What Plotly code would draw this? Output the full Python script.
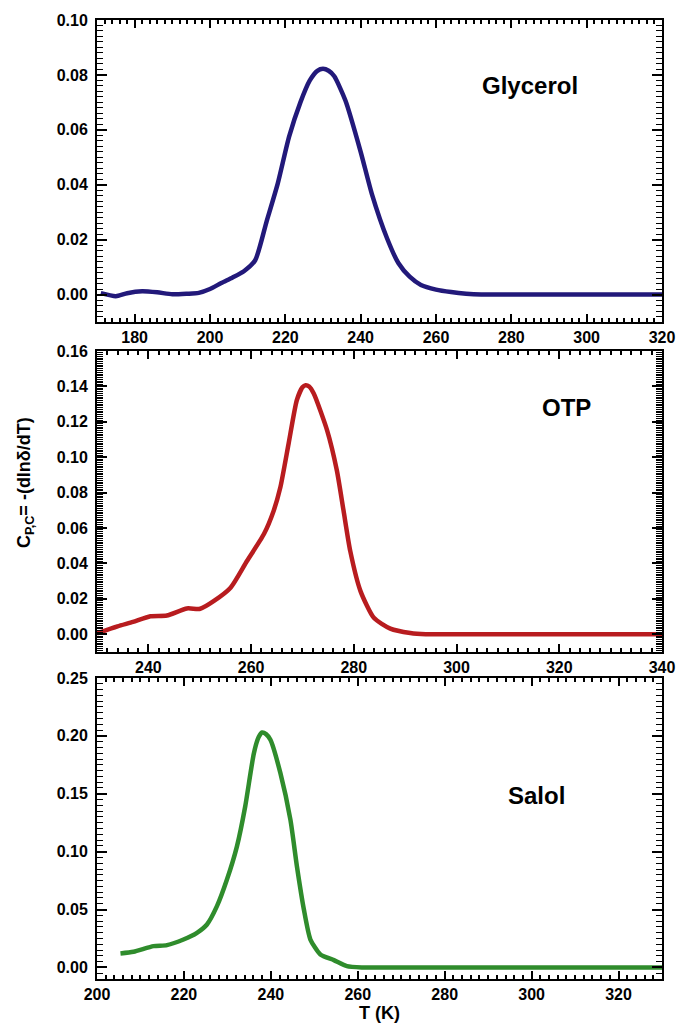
import plotly.graph_objects as go

# Configurational heat capacity curves C_P,C = -(dln(delta)/dT) vs temperature
glycerol_T = [171, 175, 178, 182, 186, 190, 194, 197, 200, 203, 206, 209, 212, 215, 218,
              221, 224, 226.5, 228.5, 230, 231.5, 233, 236, 240, 243, 247, 250, 253, 256,
              260, 264, 268, 272, 280, 290, 300, 310, 320]
glycerol_C = [0.0005, -0.0006, 0.0005, 0.0012, 0.0008, 0.0001, 0.0003, 0.0006, 0.0020,
              0.0042, 0.0062, 0.0085, 0.0125, 0.0265, 0.0405, 0.0575, 0.0700, 0.0780,
              0.0815, 0.0822, 0.0815, 0.0795, 0.0705, 0.0520, 0.0365, 0.0205, 0.0115,
              0.0065, 0.0035, 0.0018, 0.0009, 0.0003, 0.0, 0.0, 0.0, 0.0, 0.0, 0.0]

otp_T = [230, 234, 237, 240.4, 243.6, 247.5, 250.1, 252.7, 256, 259.2, 262.5, 264.4,
         265.7, 267.3, 268.9, 270.0, 270.6, 271.3, 272.2, 274.8, 276.7, 278.0, 279.3,
         281.3, 283.9, 287.1, 291, 294, 300, 310, 320, 330, 340]
otp_C = [0.0005, 0.0045, 0.0070, 0.0102, 0.0106, 0.0146, 0.0144, 0.0187, 0.0263, 0.0414,
         0.0566, 0.0698, 0.0830, 0.1076, 0.1322, 0.1395, 0.1407, 0.1400, 0.1360, 0.1152,
         0.0925, 0.0698, 0.0471, 0.0244, 0.0093, 0.0032, 0.0007, 0.0, 0.0, 0.0, 0.0,
         0.0, 0.0]

salol_T = [205.4, 208.4, 213.0, 216.1, 219.9, 223.0, 225.3, 227.6, 229.9, 232.2, 234.1,
           236.1, 237.2, 238.0, 238.9, 239.9, 242.2, 244.5, 246.0, 247.6, 249.1, 251.4,
           254.5, 257.5, 261, 270, 280, 290, 300, 310, 320, 330]
salol_C = [0.0121, 0.0135, 0.0184, 0.0193, 0.0241, 0.0299, 0.0371, 0.0529, 0.0759, 0.1046,
           0.1390, 0.1851, 0.1990, 0.2029, 0.2015, 0.1966, 0.1678, 0.1276, 0.0873, 0.0500,
           0.0241, 0.0112, 0.0063, 0.0011, 0.0, 0.0, 0.0, 0.0, 0.0, 0.0, 0.0, 0.0]

names = ["Glycerol", "OTP", "Salol"]
colors = ["#22197a", "#b81c1f", "#2f8c2c"]

W, H = 677, 1028
plot_left, plot_right = 97, 662
panels_px = [(20, 322), (351, 652), (678, 979)]   # top, bottom pixel rows of each panel

x_ranges = [[170, 320], [230, 340], [200, 330]]
y_ranges = [[-0.01, 0.10], [-0.01, 0.16], [-0.01, 0.25]]
y_dticks = [0.02, 0.02, 0.05]
y_minor = [0.002, 0.001, 0.005]

series = [(glycerol_T, glycerol_C), (otp_T, otp_C), (salol_T, salol_C)]

FONT = "Liberation Sans, Arial, sans-serif"
tick_font = dict(family=FONT, size=16, color="black", weight="bold")

fig = go.Figure()
layout = dict(
    width=W, height=H,
    margin=dict(l=0, r=0, t=0, b=0, autoexpand=False),
    paper_bgcolor="white", plot_bgcolor="white",
    showlegend=False,
)

annotations = []
for i, ((T, C), name, color) in enumerate(zip(series, names, colors)):
    n = "" if i == 0 else str(i + 1)
    fig.add_trace(go.Scatter(x=T, y=C, mode="lines", name=name,
                             line=dict(color=color, width=4.5, shape="spline", smoothing=0.6),
                             xaxis="x" + n, yaxis="y" + n))
    top_px, bot_px = panels_px[i]
    layout["xaxis" + n] = dict(
        domain=[plot_left / W, plot_right / W], anchor="y" + n, automargin=False,
        range=x_ranges[i], dtick=20, tick0=0, showgrid=False, zeroline=False,
        showline=True, linecolor="black", linewidth=2, mirror="ticks",
        ticks="inside", ticklen=8, tickwidth=2, tickcolor="black",
        minor=dict(dtick=2, tick0=0, ticks="inside", ticklen=4, tickwidth=1.6, tickcolor="black"),
        tickfont=tick_font, ticklabelstandoff=0,
    )
    layout["yaxis" + n] = dict(
        domain=[1 - bot_px / H, 1 - top_px / H], anchor="x" + n, automargin=False,
        range=y_ranges[i], dtick=y_dticks[i], tick0=0, tickformat=".2f",
        showgrid=False, zeroline=False,
        showline=True, linecolor="black", linewidth=2, mirror="ticks",
        ticks="inside", ticklen=10, tickwidth=2, tickcolor="black",
        minor=dict(dtick=y_minor[i], tick0=0, ticks="inside", ticklen=6, tickwidth=1.4, tickcolor="black"),
        tickfont=tick_font, ticklabelstandoff=4,
    )

label_pos = [(530, 85), (566, 408), (536, 795)]
for name, (px, py) in zip(names, label_pos):
    annotations.append(dict(text=name, x=px / W, y=1 - py / H, xref="paper", yref="paper",
                            showarrow=False, xanchor="center", yanchor="middle",
                            font=dict(family=FONT, size=24, color="black", weight="bold")))

annotations.append(dict(text="C<sub>P,C</sub>= -(dlnδ/dT)", x=25 / W, y=1 - 483 / H,
                        xref="paper", yref="paper", showarrow=False, textangle=-90,
                        xanchor="center", yanchor="middle",
                        font=dict(family=FONT, size=18, color="black", weight="bold")))
annotations.append(dict(text="T (K)", x=379 / W, y=1 - 1013 / H,
                        xref="paper", yref="paper", showarrow=False,
                        xanchor="center", yanchor="middle",
                        font=dict(family=FONT, size=18, color="black", weight="bold")))
layout["annotations"] = annotations
fig.update_layout(**layout)

fig.write_html("out.html")
